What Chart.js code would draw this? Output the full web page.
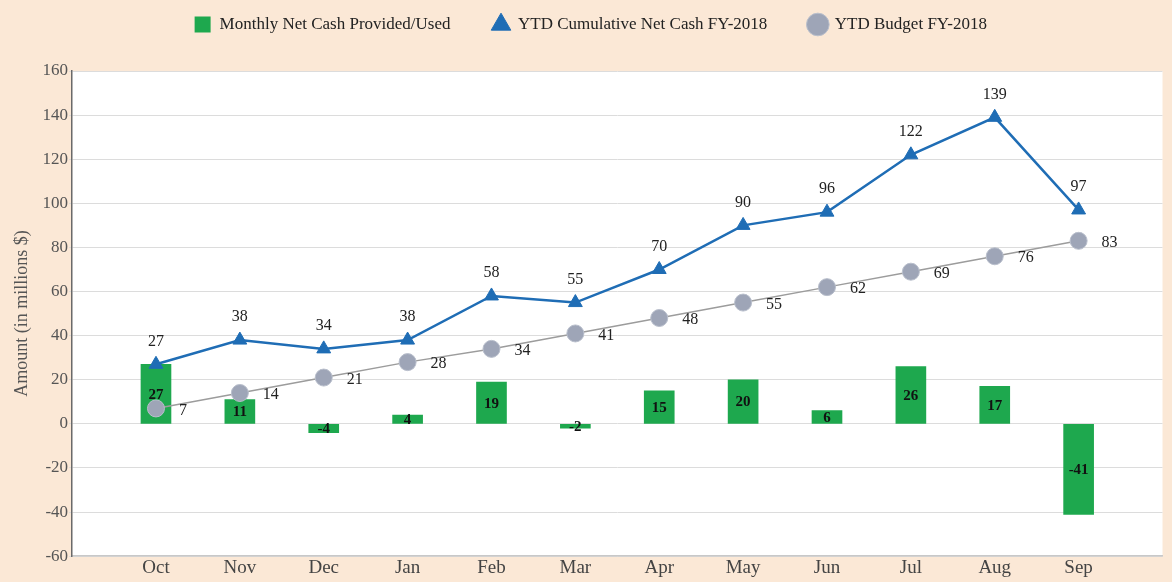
<!DOCTYPE html>
<html>
<head>
<meta charset="utf-8">
<script src="https://cdn.jsdelivr.net/npm/chart.js@4"></script>
<style>
  html, body { margin: 0; padding: 0; background: #fbe8d6; }
  #wrap { width: 1172px; height: 582px; }
</style>
</head>
<body>
<div id="wrap"><canvas id="myChart" width="1172" height="582"></canvas></div>
<script>
// months of the fiscal year
var months = ["Oct", "Nov", "Dec", "Jan", "Feb", "Mar", "Apr", "May", "Jun", "Jul", "Aug", "Sep"];
// values in millions $
var monthlyNet = [27, 11, -4, 4, 19, -2, 15, 20, 6, 26, 17, -41];
var ytdCumulative = [27, 38, 34, 38, 58, 55, 70, 90, 96, 122, 139, 97];
var ytdBudget = [7, 14, 21, 28, 34, 41, 48, 55, 62, 69, 76, 83];
var yTicks = [-60, -40, -20, 0, 20, 40, 60, 80, 100, 120, 140, 160];

function toPoints(arr) {
    return arr.map(function (v, i) { return { x: i, y: v }; });
}

var serif = "'Liberation Serif', 'Times New Roman', serif";

// white plot area on the peach background
var plotBg = {
    id: 'plotBg',
    beforeDraw: function (chart) {
        var c = chart.ctx, a = chart.chartArea;
        c.save();
        c.fillStyle = '#fbe8d6';
        c.fillRect(0, 0, chart.width, chart.height);
        c.fillStyle = '#ffffff';
        c.fillRect(a.left, a.top, a.right - a.left, a.bottom - a.top);
        c.restore();
    }
};

// make the legend box taller so the plot starts lower
var legendSpace = {
    id: 'legendSpace',
    beforeInit: function (chart) {
        var origFit = chart.legend.fit;
        chart.legend.fit = function () {
            origFit.bind(chart.legend)();
            this.height = 97;
        };
    }
};

// value labels for bars and both lines
var valueLabels = {
    id: 'valueLabels',
    afterDatasetsDraw: function (chart) {
        var c = chart.ctx;
        c.save();
        chart.data.datasets.forEach(function (ds, di) {
            var meta = chart.getDatasetMeta(di);
            meta.data.forEach(function (el, i) {
                var v = ds.data[i].y;
                if (di === 0) {
                    c.font = "bold 15px " + serif;
                    c.fillStyle = '#111';
                    c.textAlign = 'center';
                    c.textBaseline = 'middle';
                    c.fillText(v, el.x, (el.y + el.base) / 2 + 1);
                } else if (di === 1) {
                    c.font = "16px " + serif;
                    c.fillStyle = '#222';
                    c.textAlign = 'center';
                    c.textBaseline = 'middle';
                    c.fillText(v, el.x, el.y - 23);
                } else {
                    c.font = "16px " + serif;
                    c.fillStyle = '#222';
                    c.textAlign = 'left';
                    c.textBaseline = 'middle';
                    c.fillText(v, el.x + 23, el.y + 2);
                }
            });
        });
        c.restore();
    }
};

var ctx = document.getElementById('myChart');
var chart = new Chart(ctx, {
    type: 'bar',
    data: {
        datasets: [{
            type: 'bar',
            label: 'Monthly Net Cash Provided/Used',
            data: toPoints(monthlyNet),
            backgroundColor: '#1ea84e',
            borderWidth: 0,
            barThickness: 30,
            pointStyle: 'rect',
            order: 3
        }, {
            type: 'line',
            label: 'YTD Cumulative Net Cash FY-2018',
            data: toPoints(ytdCumulative),
            borderColor: '#1f6db5',
            backgroundColor: '#1f6db5',
            borderWidth: 2.5,
            pointStyle: 'triangle',
            pointRadius: 8,
            pointBorderWidth: 1,
            tension: 0,
            order: 1
        }, {
            type: 'line',
            label: 'YTD Budget FY-2018',
            data: toPoints(ytdBudget),
            borderColor: '#9c9c9c',
            backgroundColor: '#9ea5b7',
            pointBorderColor: '#b9bfcc',
            borderWidth: 1.5,
            pointStyle: 'circle',
            pointRadius: 8.5,
            pointBorderWidth: 1,
            tension: 0,
            order: 2
        }]
    },
    options: {
        responsive: false,
        animation: false,
        layout: { padding: { top: -26, right: 1, bottom: 3, left: 10 } },
        plugins: {
            tooltip: { enabled: false },
            legend: {
                position: 'top',
                labels: {
                    usePointStyle: true,
                    boxHeight: 16,
                    padding: 42,
                    color: '#222',
                    font: { family: serif, size: 17 },
                    sort: function (a, b) { return a.datasetIndex - b.datasetIndex; }
                }
            }
        },
        scales: {
            x: {
                type: 'linear',
                min: -1,
                max: 12,
                offset: false,
                grid: { display: false, drawTicks: false },
                border: { display: true, color: '#c8c8c8', width: 1.5 },
                ticks: {
                    stepSize: 1,
                    autoSkip: false,
                    maxRotation: 0,
                    padding: 0,
                    color: '#444',
                    font: { family: serif, size: 19 },
                    callback: function (v) { return months[v] || ''; }
                }
            },
            y: {
                min: yTicks[0],
                max: yTicks[yTicks.length - 1],
                afterBuildTicks: function (axis) {
                    axis.ticks = yTicks.map(function (v) { return { value: v }; });
                },
                grid: { color: '#dcdcdc', lineWidth: 1, tickLength: 3 },
                border: { display: true, color: '#6a6a6a', width: 1.5 },
                ticks: {
                    padding: 1,
                    color: '#555',
                    font: { family: serif, size: 17 }
                },
                title: {
                    display: true,
                    text: 'Amount (in millions $)',
                    color: '#555',
                    font: { family: serif, size: 18 },
                    padding: { top: 1, bottom: 9 }
                }
            }
        }
    },
    plugins: [plotBg, legendSpace, valueLabels]
});
</script>
</body>
</html>
